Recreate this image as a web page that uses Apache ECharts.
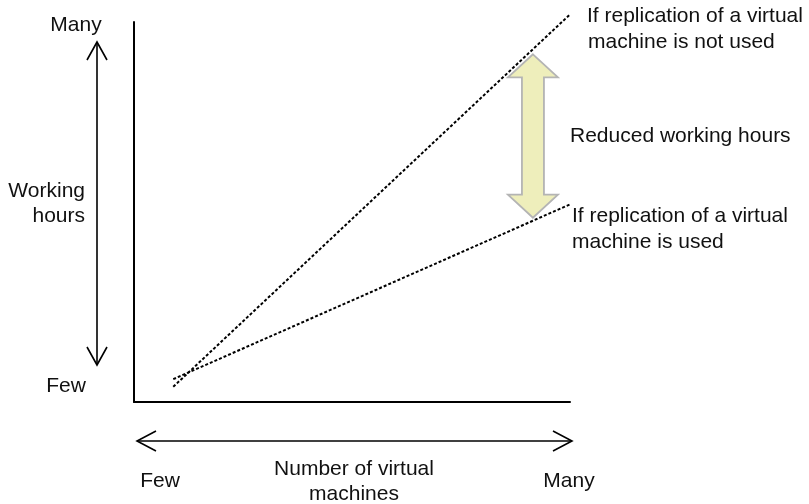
<!DOCTYPE html>
<html>
<head>
<meta charset="utf-8">
<script src="https://cdn.jsdelivr.net/npm/echarts@6/dist/echarts.min.js"></script>
<style>
  html, body { margin: 0; padding: 0; background: #fff; }
  #chart { width: 809px; height: 504px; }
</style>
</head>
<body>
<div id="chart"></div>
<script>
// lines in axis units (0..100 on both axes)
var notUsedLine = [[9, 4], [100, 102]];
var usedLine = [[9, 6], [100, 52]];
// reduced hours arrow: x, top value, bottom value
var reducedArrow = [[91.5, 91.5, 48.5]];

var FONT = '21px "Liberation Sans", Arial, sans-serif';

function txt(text, x, y, align) {
    return {
        type: 'text',
        style: {
            text: text,
            x: x,
            y: y,
            font: FONT,
            fill: '#111',
            textAlign: align || 'left',
            textVerticalAlign: 'middle'
        }
    };
}

function line(x1, y1, x2, y2) {
    return {
        type: 'line',
        shape: { x1: x1, y1: y1, x2: x2, y2: y2 },
        style: { stroke: '#000', lineWidth: 1.6 }
    };
}

function head(points) {
    return {
        type: 'polyline',
        shape: { points: points },
        style: { stroke: '#000', lineWidth: 1.6, fill: null }
    };
}

var myChart = echarts.init(document.getElementById('chart'));

var option = {
    animation: false,
    grid: { left: 134, top: 22, right: 239, bottom: 102 },
    xAxis: {
        type: 'value', min: 0, max: 100,
        axisLine: { show: true, onZero: false, lineStyle: { color: '#000', width: 2 } },
        axisTick: { show: false }, axisLabel: { show: false }, splitLine: { show: false }
    },
    yAxis: {
        type: 'value', min: 0, max: 100,
        axisLine: { show: true, onZero: false, lineStyle: { color: '#000', width: 2 } },
        axisTick: { show: false }, axisLabel: { show: false }, splitLine: { show: false }
    },
    series: [
        {
            name: 'not used',
            type: 'line',
            data: notUsedLine,
            clip: false,
            symbol: 'none',
            lineStyle: { color: '#000', width: 2, type: [3, 2] }
        },
        {
            name: 'used',
            type: 'line',
            data: usedLine,
            clip: false,
            symbol: 'none',
            lineStyle: { color: '#000', width: 2, type: [3, 2] }
        },
        {
            name: 'reduced',
            type: 'custom',
            clip: false,
            data: reducedArrow,
            renderItem: function (params, api) {
                var top = api.coord([api.value(0), api.value(1)]);
                var bot = api.coord([api.value(0), api.value(2)]);
                var cx = top[0], hw = 25, sw = 11, hl = 23;
                var pts = [
                    [cx, top[1]],
                    [cx + hw, top[1] + hl],
                    [cx + sw, top[1] + hl],
                    [cx + sw, bot[1] - hl],
                    [cx + hw, bot[1] - hl],
                    [cx, bot[1]],
                    [cx - hw, bot[1] - hl],
                    [cx - sw, bot[1] - hl],
                    [cx - sw, top[1] + hl],
                    [cx - hw, top[1] + hl]
                ];
                return {
                    type: 'polygon',
                    shape: { points: pts },
                    style: { fill: '#eeeebb', stroke: '#b4b4b4', lineWidth: 1.8 }
                };
            }
        }
    ],
    graphic: [
        line(97, 42, 97, 365),
        head([[87, 60], [97, 42], [107, 60]]),
        head([[87, 347], [97, 365], [107, 347]]),
        line(137, 441, 572, 441),
        head([[156, 431], [137, 441], [156, 451]]),
        head([[553, 431], [572, 441], [553, 451]]),
        txt('Many', 76, 25, 'center'),
        txt('Few', 66, 386, 'center'),
        txt('Working', 85, 191, 'right'),
        txt('hours', 85, 216, 'right'),
        txt('Few', 160, 481, 'center'),
        txt('Number of virtual', 354, 469, 'center'),
        txt('machines', 354, 494, 'center'),
        txt('Many', 569, 481, 'center'),
        txt('If replication of a virtual', 587, 16),
        txt('machine is not used', 588, 42),
        txt('Reduced working hours', 570, 136),
        txt('If replication of a virtual', 572, 216),
        txt('machine is used', 572, 242)
    ]
};

myChart.setOption(option);
</script>
</body>
</html>
